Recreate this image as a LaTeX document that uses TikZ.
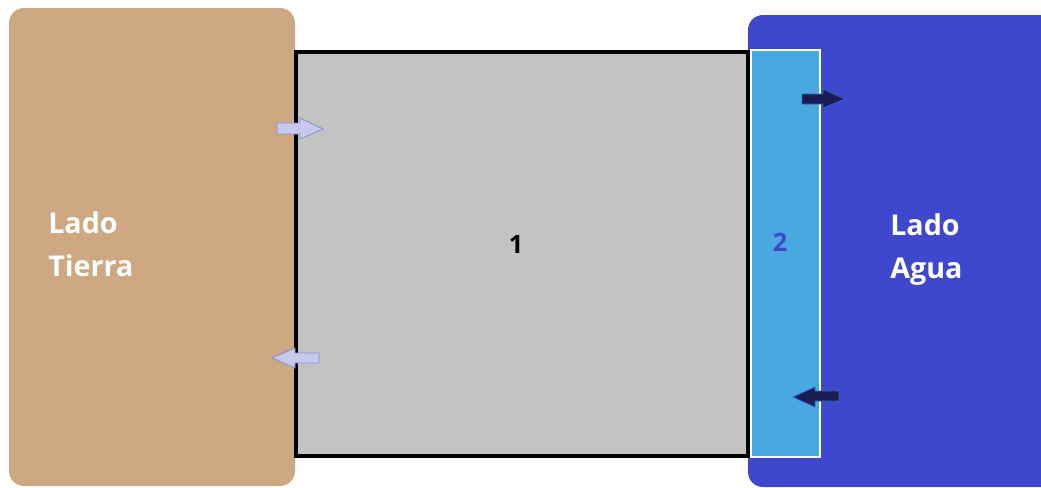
\documentclass[tikz,border=0pt]{standalone}
\usepackage{fontspec}
\setmainfont{Open Sans}
\begin{document}
\begin{tikzpicture}[x=0.75pt,y=-0.75pt,
  land/.style={fill=tanland,draw=none,rounded corners=11.25pt},
  water/.style={fill=bluewater,draw=none,rounded corners=11.25pt},
  wall/.style={fill=wallgray,draw=black,line width=2.4pt},
  strip/.style={fill=stripblue,draw=white,line width=1.8pt},
  lightarrow/.style={fill=arrowlight,draw=arrowlightedge,line width=0.6pt,line join=miter},
  darkarrow/.style={fill=arrowdark,draw=arrowdarkedge,line width=0.6pt,line join=miter},
  sidelabel/.style={text=white,font=\bfseries\fontsize{21.5}{32.5}\selectfont,align=left,inner sep=0pt,anchor=north west},
  zonelabel/.style={font=\bfseries\fontsize{19}{22}\selectfont,inner sep=0pt}]
\definecolor{tanland}{HTML}{CDA882}
\definecolor{bluewater}{HTML}{3F48CC}
\definecolor{wallgray}{HTML}{C3C3C3}
\definecolor{stripblue}{HTML}{4AA8E0}
\definecolor{arrowlight}{HTML}{C8C8EE}
\definecolor{arrowlightedge}{HTML}{7F93CC}
\definecolor{arrowdark}{HTML}{1C1C55}
\definecolor{arrowdarkedge}{HTML}{2F5FD0}
\useasboundingbox (0,0) rectangle (1041,487);
% land and water sides
\path[land] (9,8) rectangle (295,486);
\path[water] (748,15) rectangle (1060,487);
% wall body and its water-side strip
\draw[wall] (296,52) rectangle (748,456);
\draw[strip] (751,50) rectangle (820,457);
% flow arrows
\draw[lightarrow] (277,123) -- (300,123) -- (300,118) -- (323,129) -- (300,139) -- (300,134) -- (277,134) -- cycle;
\draw[lightarrow] (319,353) -- (295,353) -- (295,348) -- (272,358) -- (295,368) -- (295,363) -- (319,363) -- cycle;
\draw[darkarrow] (802,94) -- (823,94) -- (823,89) -- (845,99) -- (823,108) -- (823,104) -- (802,104) -- cycle;
\draw[darkarrow] (839,391) -- (815,391) -- (815,387) -- (793,397) -- (815,407) -- (815,401) -- (839,401) -- cycle;
% labels
\node[sidelabel] (tierra) at (48,211) {Lado\\Tierra};
\node[sidelabel] (agua) at (890,213) {Lado\\Agua};
\node[zonelabel] (one) at (516,244) {1};
\node[zonelabel,text=bluewater] (two) at (780,242) {2};
\end{tikzpicture}
\end{document}
